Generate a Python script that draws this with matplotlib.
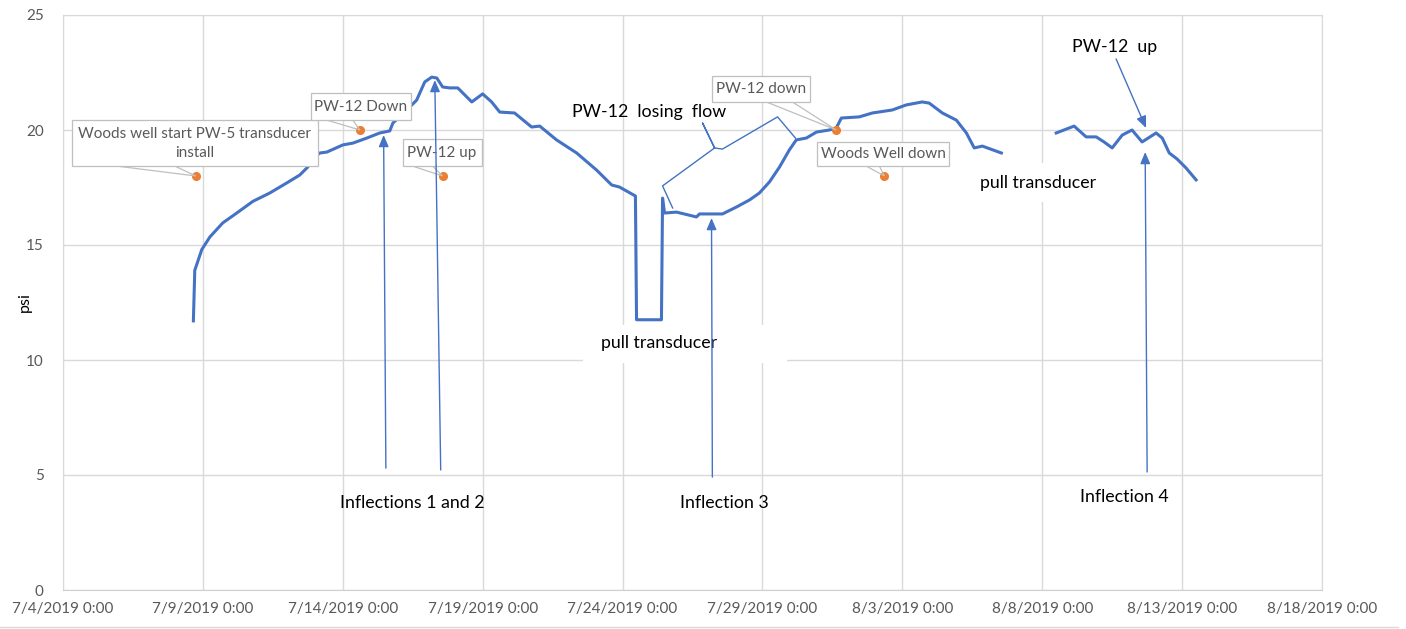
"""Transducer pressure record, Jul-Aug 2019, with event callouts."""

import matplotlib

matplotlib.use("Agg")
import matplotlib.dates as mdates
import matplotlib.pyplot as plt
import numpy as np
import pandas as pd
from matplotlib.patches import Polygon, Rectangle

plt.rcParams["font.family"] = ["Lato", "DejaVu Sans"]

START = pd.Timestamp("2019-07-04")

# pressure record (days after 7/4/2019 0:00, psi); NaN = no transducer
days = [4.66, 4.71, 4.96, 5.25, 5.71, 6.21, 6.79, 7.39, 8.0, 8.46, 8.75, 8.93,
        9.18, 9.43, 10.0, 10.36, 10.86, 11.32, 11.68, 11.79, 12.29, 12.64,
        12.93, 13.18, 13.36, 13.57, 13.82, 14.11, 14.61, 15.0, 15.32, 15.61,
        16.14, 16.75, 17.04, 17.64, 18.36, 19.07, 19.61, 19.89, 20.46, 20.5,
        21.39, 21.43, 21.5, 21.93, 22.64, 22.75, 23.57, 24.07, 24.54, 24.89,
        25.25, 25.61, 25.96, 26.21, 26.57, 26.93, 27.39, 27.64, 27.82, 28.46,
        28.93, 29.64, 30.14, 30.71, 30.96, 31.43, 31.93, 32.29, 32.57, 32.86,
        33.54, 34.5,
        35.5, 36.14, 36.57, 36.93, 37.21, 37.5, 37.86, 38.21, 38.57, 39.07,
        39.29, 39.54, 39.82, 40.14, 40.5]
psi = [11.7, 13.9, 14.8, 15.35, 15.96, 16.39, 16.9, 17.26, 17.7, 18.04, 18.39,
       18.78, 19.0, 19.04, 19.35, 19.43, 19.65, 19.87, 19.96, 20.3, 20.87, 21.3,
       22.09, 22.3, 22.26, 21.87, 21.83, 21.83, 21.22, 21.57, 21.22, 20.78,
       20.74, 20.13, 20.17, 19.57, 19.0, 18.26, 17.61, 17.52, 17.13, 11.75,
       11.75, 17.04, 16.39, 16.43, 16.22, 16.35, 16.35, 16.65, 16.96, 17.26,
       17.74, 18.39, 19.13, 19.57, 19.65, 19.91, 20.0, 20.09, 20.52, 20.57,
       20.74, 20.87, 21.09, 21.22, 21.17, 20.74, 20.43, 19.87, 19.22, 19.3,
       19.0, np.nan,
       19.87, 20.17, 19.7, 19.7, 19.48, 19.22, 19.78, 20.0, 19.48, 19.87,
       19.65, 19.0, 18.74, 18.35, 17.83]

# logged events
event_days = [4.75, 10.61, 13.57, 27.64, 29.36]
event_psi = [18.0, 20.0, 18.0, 20.0, 18.0]
event_labels = ["Woods well start PW-5 transducer\ninstall", "PW-12 Down",
                "PW-12 up", "PW-12 down", "Woods Well down"]

BLUE = "#4472C4"
ORANGE = "#ED7D31"
GRID = "#D9D9D9"
GREY_TXT = "#595959"


def X(d):
    return mdates.date2num(START) + d


fig = plt.figure(figsize=(14.06, 6.29), dpi=100)
ax = fig.add_axes([63 / 1406, 1 - 590 / 629, 1259 / 1406, 575 / 629])

ax.plot([X(d) for d in days], psi, color=BLUE, lw=2.2,
        solid_joinstyle="round", zorder=3)
ax.plot([X(d) for d in event_days], event_psi, "o", color=ORANGE, ms=5.5,
        zorder=4)

# callout boxes: (x0, x1, y0, y1) box, tail base x positions
callouts = [
    ((0.32, 9.11, 18.43, 20.43), (1.93, 4.0)),
    ((8.86, 12.43, 20.43, 21.61), (9.43, 10.36)),
    ((12.14, 14.96, 18.43, 19.61), (12.5, 13.21)),
    ((23.18, 26.71, 21.22, 22.35), (25.14, 26.07)),
    ((26.96, 31.68, 18.43, 19.48), (28.71, 29.18)),
]
for (box, tail), d, p, lab in zip(callouts, event_days, event_psi, event_labels):
    x0, x1, y0, y1 = box
    ax.add_patch(Polygon([(X(tail[0]), y0), (X(d), p), (X(tail[1]), y0)],
                         closed=False, fill=False, edgecolor="#BFBFBF",
                         lw=0.9, zorder=5))
    ax.add_patch(Rectangle((X(x0), y0), x1 - x0, y1 - y0, facecolor="white",
                           edgecolor="#BFBFBF", lw=0.9, zorder=6))
    ax.text(X((x0 + x1) / 2), (y0 + y1) / 2, lab, ha="center", va="center",
            color=GREY_TXT, fontsize=11, linespacing=1.45, zorder=7)

# white label patches for the transducer pulls
for x0, x1, y0, y1 in [(18.57, 25.89, 9.87, 11.52), (32.04, 37.75, 16.87, 18.57)]:
    ax.add_patch(Rectangle((X(x0), y0), x1 - x0, y1 - y0, facecolor="white",
                           edgecolor="none", zorder=2))
ax.text(X(21.29), 10.74, "pull transducer", ha="center", va="center",
        fontsize=12.8, zorder=3)
ax.text(X(34.86), 17.7, "pull transducer", ha="center", va="center",
        fontsize=12.8, zorder=3)

ax.text(X(12.5), 3.78, "Inflections 1 and 2", ha="center", va="center",
        fontsize=12.8)
ax.text(X(23.64), 3.78, "Inflection 3", ha="center", va="center", fontsize=12.8)
ax.text(X(37.93), 4.04, "Inflection 4", ha="center", va="center", fontsize=12.8)
ax.text(X(37.57), 23.6, "PW-12  up", ha="center", va="center", fontsize=12.8)
ax.text(X(20.96), 20.78, "PW-12  losing  flow", ha="center", va="center",
        fontsize=12.8)

# inflection arrows
arrows = [((11.54, 5.30), (11.46, 19.78)), ((13.5, 5.22), (13.29, 22.17)),
          ((23.21, 4.91), (23.18, 16.17)), ((38.75, 5.13), (38.68, 19.04)),
          ((37.64, 23.09), (38.71, 20.09))]
for (tx, ty), (hx, hy) in arrows:
    ax.annotate("", xy=(X(hx), hy), xytext=(X(tx), ty), zorder=8,
                arrowprops=dict(arrowstyle="-|>,head_length=0.7,head_width=0.3",
                                color=BLUE, lw=1, shrinkA=0, shrinkB=0))

# brace for the losing-flow period
brace = [(21.79, 16.61), (21.43, 17.57), (23.29, 19.22), (22.86, 20.30),
         (23.29, 19.22), (23.57, 19.17), (25.54, 20.57), (26.18, 19.65)]
ax.plot([X(d) for d, _ in brace], [p for _, p in brace], color=BLUE, lw=1,
        zorder=5)

ax.set_xlim(X(0), X(45))
ax.set_ylim(0, 25)
ax.set_xticks([X(d) for d in range(0, 46, 5)])
ax.xaxis.set_major_formatter(plt.FuncFormatter(
    lambda v, _: "{d.month}/{d.day}/{d.year} 0:00".format(d=mdates.num2date(v))))
ax.set_yticks(range(0, 26, 5))
ax.tick_params(length=0, labelcolor=GREY_TXT, labelsize=11)
ax.tick_params(axis="x", pad=9)
ax.tick_params(axis="y", pad=14)
ax.grid(True, color=GRID, lw=1)
ax.set_axisbelow(True)
for s in ax.spines.values():
    s.set_color(GRID)
ax.spines["bottom"].set_color("#CFCFCF")
ax.set_ylabel("psi", fontsize=11.5)
ax.yaxis.set_label_coords(-0.025, 0.5)

fig.add_artist(plt.Line2D([0, 1398 / 1406], [2 / 629, 2 / 629],
                          color=GRID, lw=1))

fig.savefig("out.png", dpi=100)
